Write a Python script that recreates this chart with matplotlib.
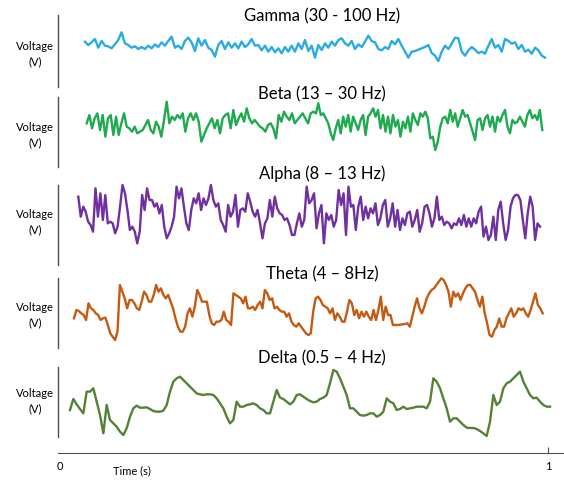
import numpy as np
import matplotlib
matplotlib.use("Agg")
import matplotlib.pyplot as plt

plt.rcParams['font.family'] = ['Lato', 'DejaVu Sans']

# band names and colours, top to bottom
bandas = ["Gamma (30 - 100 Hz)", "Beta (13 \u2013 30 Hz)", "Alpha (8 \u2013 13 Hz)",
          "Theta (4 \u2013 8Hz)", "Delta (0.5 \u2013 4 Hz)"]
colores = ["#2AABE2", "#1EAA4E", "#7030A0", "#C55A11", "#548235"]

gamma_v = [20, 10, 18, 28, 2, 22, 8, 6, 0, 12, 25, 48, 15, 10, 2, 6, -2, 4, -2, 8,
           0, 12, 4, 18, 8, 22, 35, 2, 8, -2, 22, 32, 18, -8, 30, 8, 25, 2, -5, -25,
           10, 22, -2, 18, 2, 15, 0, 20, 4, 12, 28, 8, 10, -6, 8, -10, 4, -12, 0, -15,
           4, -10, 8, -10, 15, -2, 25, -8, 8, -28, 10,
           -5, 15, 2, 20, 8, 25, 30, 15, 8, 22, -2, 12, 4, 20, 38, 22, 18, -2, -6, 4,
           -2, 22, 12, 28, 8, -10, -28, -10, -8, -4, 0, 4, 10, -14, -22, -38, -10, 8, -2, 14,
           32, 30, -10, -22, -6, 4, -4, -14, -10, -16, 8, 28, 2, 10, -10, 28, 22, 14, 18, -2,
           10, -10, -4, -16, 2, -6, -22, -28]
gamma_t = (0.051, 0.994)

beta_v1 = [0, 25, -15, 15, 30, -20, 25, -40, 15, 25, -35, 20, -35, 0, 30, -10, -15, -25, -10, -30,
           -25, -20, -5, 10, -20, -30, 5, -10, -40, 10, 65, 0, 20, 10, 25, 15, 30, -25, 15, 30,
           10, 30, 5, -55, -35, -15, 0, 15, -15, 10, -30, 15, 25, 30, -15, 40, -5, 15, 30, 5,
           45, 15, 0, 10, 0, -10, -15, -25, -5, 0, -15, -45, 25, 5, 35, 20, 10, 30, 0, 10,
           20, 30, 15, 0, 30, 35, 30]
beta_t1 = (0.0547, 0.5246)
beta_v2 = [60, 25, 30, 15, 0, -30, -50, -15, 10, -30, 20, -10, 25, -25, 20, 0, -20, 10, 25, -35,
           20, 30, 45, 20, 40, -15, 25, -25, 20, -30, 25, -10, 10, -40, 5, -15, 20, -25, 30, 10,
           -5, 30, 20, 35, 15, -45, -40, -80, -55, -10, 15, 20, 0, 40, 5, 30, -10, 15, 40, 20,
           25, 0, -25, -50, 10, 15, -20, 15, 25, -10, 20, -25, 20, 5, 25, 40, -10, -30, 10, 0,
           5, 20, 5, -10, 25, 40, 15, 25, 10, 40, -20]
beta_t2 = (0.5293, 0.9883)

alpha_v = [40, -20, 10, -5, -35, -45, -65, 65, -20, 50, -30, 45, -40, -35, -40, -70, -50, 10, 75, 50,
           0, -60, -50, -65, -100, -65, 45, 0, 65, 30, 30, 10, 20, -10, 15, -50, -85, -70, -50, -20,
           70, 35, 65, 10, -40, -60, 0, 35, 20, 50, 0, 35, 15, 35, 75, 30, 10, 20, -30, -45,
           -65, 15, -20, -5, 45, -50, 0, 5, -5, 50, 25, -5, -20, 0, -40, -85, -40, -25, 30, -20,
           40, 5, -10, -15, -30, -25, -45, -75, -75, -40, -10, -50, -30,
           70, 20, 30, 50, -55, -10, 15, -100, -10, -30, -15, -50, -30, 60, 15, 50, -75, 70, 10, 15,
           -60, 10, 40, -30, 10, -25, 5, -10, 20, -45, -25, 15, 30, -50, -25, 20, -50, 0, -60, -25,
           -45, -10, -5, -50, -30, 0, -65, -40, 10, 15, -10, -50, -25, 40, -30, -20, -45, -35, -40, -55,
           -40, -45, -25, -45, -15, -50, -25, -50, -25, -40, -5, 10, -80, -50, -90, -75, -20, -90, 0, 25,
           -40, -90, -60, 10, 35, 45, 45, 30, -30, -85, -10, 40, 10, -90, -40, -50]
alpha_t = (0.0375, 0.9836)

theta_v = [-20, 5, 2, -5, -10, -25, 25, 10, 5, -5, -10, -25, -20, -18, -40, -65, -75, -85, -60, 80,
           60, 40, 10, 35, 35, 25, 10, 5, 30, 60, 50, 30, 30, 50, 80, 60, 70, 50, 40, 50,
           30, 10, -20, -45, -60, -60, -45, -5, 10, -15, 15, 65, 50, 30, 30, 30, -10, -35, -40, -30,
           -30, -25, 0, -25, -30, -40, 55, 50, 45, 40, 25, 45, 10, 10, 15, 5, 20, 30, 10, 65,
           55, 35, 40, 10, 15, 5, 0, 0, -15, -5, -30, -40, -45, -35, -45, -55, -65, -70, -65, 0,
           40, 45, 35, 20, 15, 10, -5, 10, -25, -5, -15, -30, -30, 0, 35, 25, -10, 5, -20, 0,
           -15, 0, -15, -25, 5, -25, 5, 45, -25, 15, -10, -10, -40, -40, -40, -39, -38, -37, -35, -45,
           -15, 15, 40, 10, -5, 15, 40, 55, 65, 70, 80, 90, 100, 95, 80, 60, 15, 60, 45, 55,
           35, 55, 70, 80, 80, 70, 60, 35, 15, 45, -5, -35, -70, -75, -55, -45, -20, -45, -45, -20,
           -5, 10, -15, -5, 10, 5, 10, -5, -15, 5, 30, 55, 20, 10, -5]
theta_t = (0.0287, 0.9891)

delta_v = [-25, 8, -8, -22, -35, 30, 30, 40, 0, -40, -95, -10, -55, -65, -75, -90, -100, -80, -45, -20,
           -12, -18, -18, -17, -22, -28, -30, -30, -27, -10, 30, 60, 70, 75, 65, 55, 45, 35, 25, 22,
           20, 22, 22, 20, 10, -5, -20, -45, -65, -55, 0, -15, -15, -10, -8, -5, -10, -20, -25, -35,
           -35, 0, 35, 12, 8, 0, -8, 0, 20, 22, 15, 8, 2, -2, 0, 8, 12, 20, 55, 95,
           90, 70, 45, 20, -20, -20, -30, -40, -42, -40, -35, -35, -45, -40, -30, 10, 0, -5, -25, -22,
           -15, -22, -20, -18, -15, -15, -15, -20, 0, 70, 60, 40, 10, -20, -60, -50, -50, -60, -70, -78,
           -79, -79, -82, -88, -95, -103, -60, 20, -10, 0, 40, 55, 60, 70, 80, 90, 60, 40, 20, 10,
           12, 0, -10, -15, -15]
delta_t = (0.0205, 1.0041)

# vertical range of each panel (same units as the voltages)
rangos = [(-116, 100), (-131, 79), (-165, 75), (-109, 101), (-106, 104)]

series = [
    [(gamma_t, gamma_v)],
    [(beta_t1, beta_v1), (beta_t2, beta_v2)],
    [(alpha_t, alpha_v)],
    [(theta_t, theta_v)],
    [(delta_t, delta_v)],
]

fig = plt.figure(figsize=(5.64, 4.8), dpi=100)

# panel boxes in pixels: (top, bottom)
cajas = [(15, 87), (97, 167), (185, 265), (278, 348), (367, 437)]
titulos_y = [16.7, 94, 174, 274, 358]
etiq_y = [54, 135, 222, 315, 401]
W, H = 564.0, 480.0
x0, x1 = 58, 565
xlim = (-0.0041, 1.0348)

for i in range(5):
    top, bot = cajas[i]
    ax = fig.add_axes([x0 / W, 1 - bot / H, (x1 - x0) / W, (bot - top) / H])
    t = np.concatenate([np.linspace(a, b, len(v)) for (a, b), v in series[i]])
    v = np.concatenate([v for _, v in series[i]])
    ax.plot(t, v, color=colores[i], lw=1.7, solid_joinstyle='round', clip_on=False)
    ax.set_xlim(xlim)
    ax.set_ylim(rangos[i])
    for s in ["top", "right", "bottom"]:
        ax.spines[s].set_visible(False)
    ax.spines["left"].set_color("#505050")
    ax.spines["left"].set_linewidth(1.0)
    ax.set_xticks([])
    ax.set_yticks([])
    ax.patch.set_alpha(0)
    fig.text(322 / W, 1 - titulos_y[i] / H, bandas[i], ha="center", va="center", fontsize=12)
    fig.text(35 / W, 1 - etiq_y[i] / H, "Voltage\n(V)", ha="center", va="center",
             fontsize=8, linespacing=1.5)

# time axis at the bottom
axt = fig.add_axes([x0 / W, 1 - 453 / H, (x1 - x0) / W, 0.0001])
axt.set_xlim(xlim)
axt.set_yticks([])
for s in ["top", "right", "left"]:
    axt.spines[s].set_visible(False)
axt.spines["bottom"].set_color("#505050")
axt.set_xticks([0, 1])
axt.set_xticklabels(["0", "1"], fontsize=8)
axt.tick_params(axis="x", direction="in", length=4, pad=6, color="#505050")
axt.xaxis.get_ticklines()[0].set_visible(False)
fig.text(132 / W, 1 - 471 / H, "Time (s)", ha="center", va="center", fontsize=8)

fig.savefig("out.png", dpi=100)
